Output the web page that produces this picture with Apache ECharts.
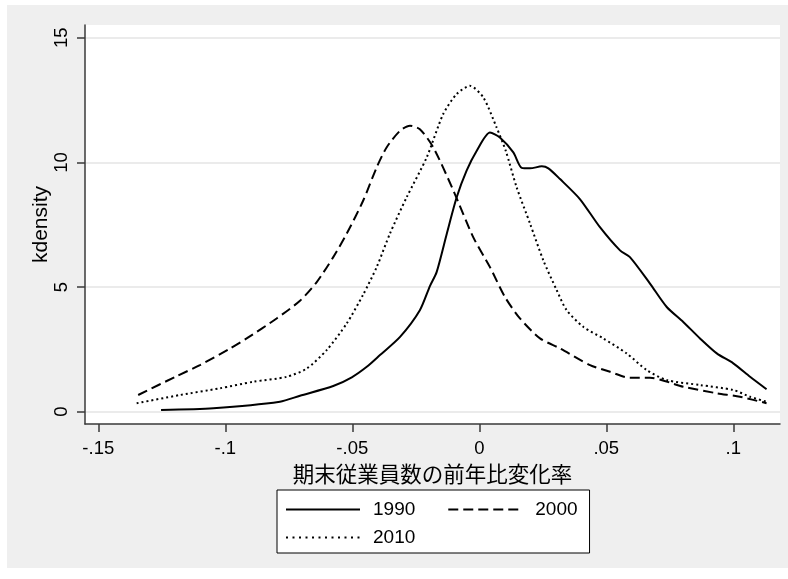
<!DOCTYPE html>
<html>
<head>
<meta charset="utf-8">
<script src="https://cdn.jsdelivr.net/npm/echarts@6/dist/echarts.min.js"></script>
<style>
html,body{margin:0;padding:0;background:#ffffff;}
#chart{width:788px;height:579px;}
</style>
</head>
<body>
<div id="chart"></div>
<script>
// ---- data ----
const seriesNames = ['1990', '2000', '2010'];

const x1990 = [-0.1253, -0.1047, -0.0785, -0.0706, -0.0575, -0.0502, -0.0443, -0.0391, -0.0312, -0.0234, -0.0194, -0.0168, -0.0128, -0.0089, -0.005, -0.001, 0.0042, 0.0081, 0.0134, 0.0167, 0.02, 0.0246, 0.0272, 0.0318, 0.0396, 0.0475, 0.0554, 0.0593, 0.0672, 0.0738, 0.0803, 0.0869, 0.0935, 0.1, 0.1066, 0.1131];
const y1990 = [0.07, 0.14, 0.40, 0.64, 1.03, 1.38, 1.8, 2.27, 3.0, 4.07, 5.05, 5.6, 7.14, 8.6, 9.67, 10.47, 11.2, 11.0, 10.4, 9.78, 9.76, 9.84, 9.76, 9.33, 8.53, 7.4, 6.47, 6.2, 5.14, 4.2, 3.6, 2.94, 2.34, 1.94, 1.4, 0.9];

const x2000 = [-0.1343, -0.1191, -0.11, -0.0981, -0.0916, -0.0798, -0.0706, -0.064, -0.0575, -0.0522, -0.0457, -0.0404, -0.0365, -0.0312, -0.0273, -0.0234, -0.0181, -0.0102, -0.0024, 0.0042, 0.0101, 0.016, 0.0239, 0.0318, 0.0436, 0.0515, 0.0593, 0.0672, 0.0803, 0.0935, 0.1026, 0.1131];
const y2000 = [0.67, 1.43, 1.87, 2.54, 2.94, 3.74, 4.45, 5.2, 6.2, 7.14, 8.47, 9.8, 10.6, 11.27, 11.47, 11.33, 10.6, 8.87, 7.0, 5.8, 4.6, 3.74, 2.94, 2.54, 1.87, 1.6, 1.36, 1.36, 1.0, 0.74, 0.6, 0.34];

const x2010 = [-0.1349, -0.1178, -0.1021, -0.089, -0.0758, -0.068, -0.0601, -0.0522, -0.0457, -0.0404, -0.0352, -0.0286, -0.0207, -0.0142, -0.0089, -0.0037, 0.0016, 0.0068, 0.0104, 0.0147, 0.02, 0.0252, 0.0305, 0.0344, 0.041, 0.0488, 0.058, 0.0659, 0.0738, 0.0869, 0.1, 0.1066, 0.1131];
const y2010 = [0.34, 0.67, 0.94, 1.2, 1.4, 1.73, 2.47, 3.54, 4.7, 5.8, 7.14, 8.6, 10.2, 11.94, 12.74, 13.07, 12.6, 11.4, 10.47, 9.0, 7.54, 6.07, 4.87, 4.07, 3.4, 2.94, 2.34, 1.67, 1.27, 1.07, 0.87, 0.6, 0.4];

const xTicks = [-0.15, -0.1, -0.05, 0, 0.05, 0.1];
const yTicks = [0, 5, 10, 15];
const xTitle = '期末従業員数の前年比変化率';
const yTitle = 'kdensity';

// ---- chart ----
const pairs = (xs, ys) => xs.map((v, i) => [v, ys[i]]);
const fmtX = v => (v === 0 ? '0' : String(v).replace('0.', '.'));
const FONT = '"Liberation Sans", Arial, Helvetica, sans-serif';

const chart = echarts.init(document.getElementById('chart'), null, {renderer: 'canvas'});

const option = {
  animation: false,
  backgroundColor: '#ffffff',
  graphic: [{
    type: 'rect', z: -10, silent: true,
    shape: {x: 7, y: 5, width: 781, height: 563},
    style: {fill: '#efefef'}
  }],
  grid: {
    left: 85, top: 25, right: 8, bottom: 155,
    show: true, backgroundColor: '#ffffff', borderWidth: 0
  },
  xAxis: {
    type: 'value', min: -0.15524, max: 0.11839,
    name: xTitle, nameLocation: 'middle', nameGap: 31,
    nameTextStyle: {fontSize: 21.5, color: '#000', fontFamily: '"Noto Sans CJK JP", sans-serif'},
    axisLine: {onZero: false, lineStyle: {color: '#3a3a3a', width: 1.5}},
    axisTick: {show: true, length: 8, customValues: xTicks, lineStyle: {color: '#3a3a3a', width: 1.5}},
    axisLabel: {customValues: xTicks, formatter: fmtX, margin: 15, fontSize: 18.5, color: '#000', fontFamily: FONT},
    splitLine: {show: false}
  },
  yAxis: {
    type: 'value', min: -0.493, max: 15.51,
    name: yTitle, nameLocation: 'middle', nameGap: 33, nameRotate: 90, nameMoveOverlap: false,
    nameTextStyle: {fontSize: 21, color: '#000', fontFamily: FONT},
    axisLine: {show: true, onZero: false, lineStyle: {color: '#3a3a3a', width: 1.5}},
    axisTick: {show: true, length: 8, customValues: yTicks, lineStyle: {color: '#3a3a3a', width: 1.5}},
    axisLabel: {customValues: yTicks, rotate: 90, margin: 14, fontSize: 18.5, color: '#000', fontFamily: FONT},
    splitLine: {show: true, lineStyle: {color: '#e4e4e4', width: 1.5}}
  },
  legend: [{
    data: [seriesNames[0], seriesNames[1]],
    orient: 'horizontal',
    left: 277, top: 490,
    padding: [10, 12, 34, 8],
    itemWidth: 74, itemHeight: 20, itemGap: 32,
    backgroundColor: '#ffffff', borderColor: '#000', borderWidth: 1,
    itemStyle: {opacity: 0},
    textStyle: {fontSize: 19, color: '#000', fontFamily: FONT, padding: [0, 0, 0, 8]},
    selectedMode: false
  }, {
    data: [seriesNames[2]],
    left: 285, top: 528, padding: 0, z: 10,
    itemWidth: 74, itemHeight: 20, itemGap: 32,
    itemStyle: {opacity: 0},
    lineStyle: {type: [2, 4.5]},
    textStyle: {fontSize: 19, color: '#000', fontFamily: FONT, padding: [0, 0, 0, 8]},
    selectedMode: false
  }],
  series: [{
    name: seriesNames[0], type: 'line', data: pairs(x1990, y1990),
    showSymbol: false, symbol: 'none', smooth: 0.25,
    lineStyle: {color: '#000', width: 2, type: 'solid'}, z: 3
  }, {
    name: seriesNames[1], type: 'line', data: pairs(x2000, y2000),
    showSymbol: false, symbol: 'none', smooth: 0.25,
    lineStyle: {color: '#000', width: 2, type: [10, 5]}, z: 3
  }, {
    name: seriesNames[2], type: 'line', data: pairs(x2010, y2010),
    showSymbol: false, symbol: 'none', smooth: 0.25,
    lineStyle: {color: '#000', width: 2, type: [2, 3]}, z: 3
  }]
};
chart.setOption(option);
</script>
</body>
</html>
